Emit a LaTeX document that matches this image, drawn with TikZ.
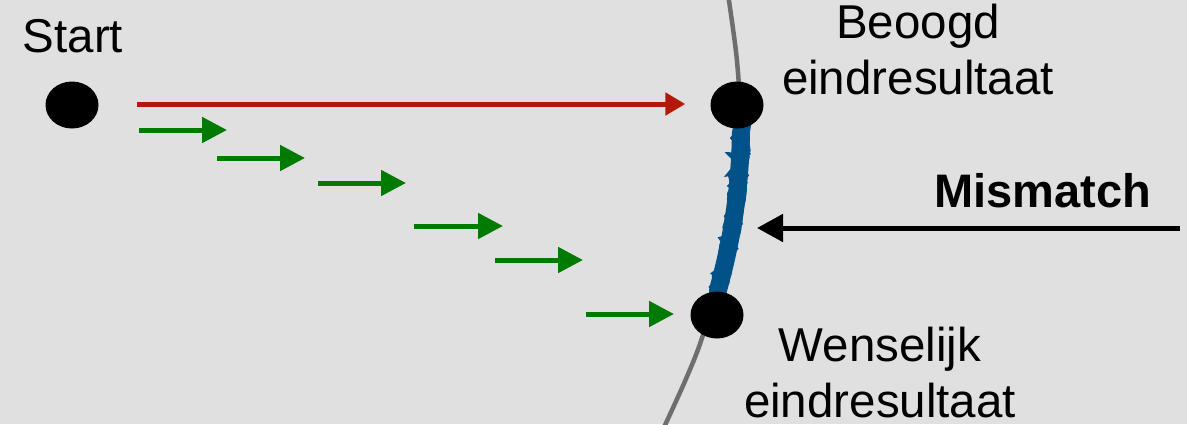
\documentclass[tikz,border=0pt]{standalone}
\usepackage{fontspec}
\setmainfont{Liberation Sans}
\usetikzlibrary{arrows.meta,decorations.pathmorphing,shapes.geometric}
\definecolor{bgcol}{RGB}{224,224,224}
\definecolor{redarrow}{RGB}{180,24,8}
\definecolor{greenarrow}{RGB}{0,122,0}
\definecolor{bluemis}{RGB}{0,82,136}
\definecolor{graycurve}{RGB}{110,110,110}
\begin{document}
\begin{tikzpicture}[x=1pt,y=-1pt,
  dot/.style={ellipse,fill=black,minimum width=53pt,minimum height=47pt,inner sep=0pt},
  lbl/.style={inner sep=0pt,align=center,font=\fontsize{47.5}{56}\selectfont},
  greenarr/.style={draw=greenarrow,line width=5pt,-{Triangle[length=25pt,width=25pt]}},
  redarr/.style={draw=redarrow,line width=5pt,-{Triangle[length=20pt,width=22pt]}},
  blackarr/.style={draw=black,line width=5pt,-{Triangle[length=26pt,width=27pt]}}]
\fill[bgcol] (0,0) rectangle (1187,424);
\useasboundingbox (0,0) rectangle (1187,424);
% gray curve
\draw[graycurve,line width=4.5pt] plot[smooth] coordinates {(728.6,-2) (736.9,60) (740,120) (734.6,200) (724.4,260) (702,338) (685.5,380) (664.6,426)};
% mismatch band
\draw[bluemis,line width=18pt,line cap=round]
    (741,132) .. controls (740,190) and (732,240) .. (718,290);
\foreach \o/\w in {-4/8,4/8,0/12} {
  \draw[bluemis,line width=\w pt,line cap=round,decorate,decoration={random steps,segment length=2.5pt,amplitude=1.8pt}]
    ([xshift=\o pt]741,130) .. controls ([xshift=\o pt]740,190) and ([xshift=\o pt]732,240) .. ([xshift=\o pt]717,293);
}
% dots
\node[dot] (start) at (72,105) {};
\node[dot] (beoogd) at (737,105) {};
\node[dot] (wens) at (717,315) {};
% labels
\node[lbl,anchor=base] (startlbl) at (73,52) {Start};
\node[lbl,anchor=north] (beoogdlbl) at (918,4) {Beoogd\\eindresultaat};
\node[lbl,anchor=north] (wenslbl) at (880,327) {Wenselijk\\eindresultaat};
\node[lbl,anchor=base,font=\fontsize{47}{56}\selectfont\bfseries] (mislbl) at (1043,207) {Mismatch};
% arrows
\coordinate (redstart) at (137,104);
\draw[redarr,shorten >=25pt] (redstart) -- (beoogd.west |- redstart);
\coordinate (g1a) at (139,130); \coordinate (g1b) at (227,130);
\coordinate (g2a) at (217,158); \coordinate (g2b) at (305,158);
\coordinate (g3a) at (318,183); \coordinate (g3b) at (406,183);
\coordinate (g4a) at (414,226); \coordinate (g4b) at (503,226);
\coordinate (g5a) at (495,260); \coordinate (g5b) at (583,260);
\coordinate (g6a) at (586,314); \coordinate (g6b) at (674,314);
\foreach \i in {1,...,6} {\draw[greenarr] (g\i a) -- (g\i b);}
\coordinate (misstart) at (1180,228);
\coordinate (misend) at (757,228);
\draw[blackarr] (misstart) -- (misend);
\end{tikzpicture}
\end{document}
